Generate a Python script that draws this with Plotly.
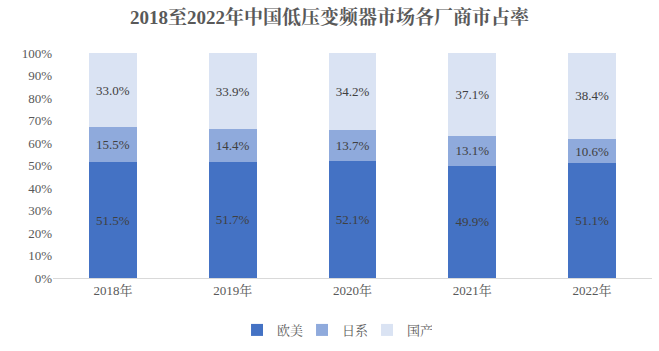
import plotly.graph_objects as go

years = ["2018年", "2019年", "2020年", "2021年", "2022年"]
oumei = [51.5, 51.7, 52.1, 49.9, 51.1]
rixi = [15.5, 14.4, 13.7, 13.1, 10.6]
guochan = [33.0, 33.9, 34.2, 37.1, 38.4]
series_names = ["欧美", "日系", "国产"]
colors = ["#4472C4", "#8FAADC", "#DAE3F3"]
ytick_vals = list(range(0, 101, 10))
ytick_text = [f"{v}%" for v in ytick_vals]

FONT = "Times New Roman, Liberation Serif, Noto Serif CJK SC, Noto Sans CJK SC, serif"

fig = go.Figure()
for name, vals, c in zip(series_names, [oumei, rixi, guochan], colors):
    fig.add_trace(go.Bar(
        x=years, y=vals, name=name, marker=dict(color=c, line=dict(width=0)),
        text=[f"{v:.1f}%" for v in vals], textposition="inside",
        insidetextanchor="middle", textangle=0,
        textfont=dict(family=FONT, size=13, color="#404040"),
    ))

fig.update_layout(
    barmode="stack", bargap=0.6,
    width=659, height=351,
    margin=dict(l=53, r=7, t=53, b=73, autoexpand=False),
    paper_bgcolor="white", plot_bgcolor="white",
    font=dict(family=FONT, size=13, color="#595959"),
    title=dict(text="<b>2018至2022年中国低压变频器市场各厂商市占率</b>",
               x=0.5, xanchor="center", y=0.95, yanchor="middle",
               font=dict(family=FONT, size=19, color="#595959")),
    xaxis=dict(showline=True, linecolor="#D9D9D9", linewidth=1, ticks="",
               automargin=False, tickfont=dict(size=13, color="#595959")),
    yaxis=dict(range=[0, 100], tickmode="array", tickvals=ytick_vals, ticktext=ytick_text,
               showgrid=False, zeroline=False, showline=False, automargin=False,
               tickfont=dict(size=13, color="#595959")),
    legend=dict(orientation="h", x=0.47, xanchor="center", y=-0.231, yanchor="middle",
                font=dict(size=13, color="#595959"), traceorder="normal",
                itemwidth=30, entrywidth=20, entrywidthmode="pixels"),
    uniformtext=dict(minsize=8, mode="show"),
)

fig.write_html("out.html")
